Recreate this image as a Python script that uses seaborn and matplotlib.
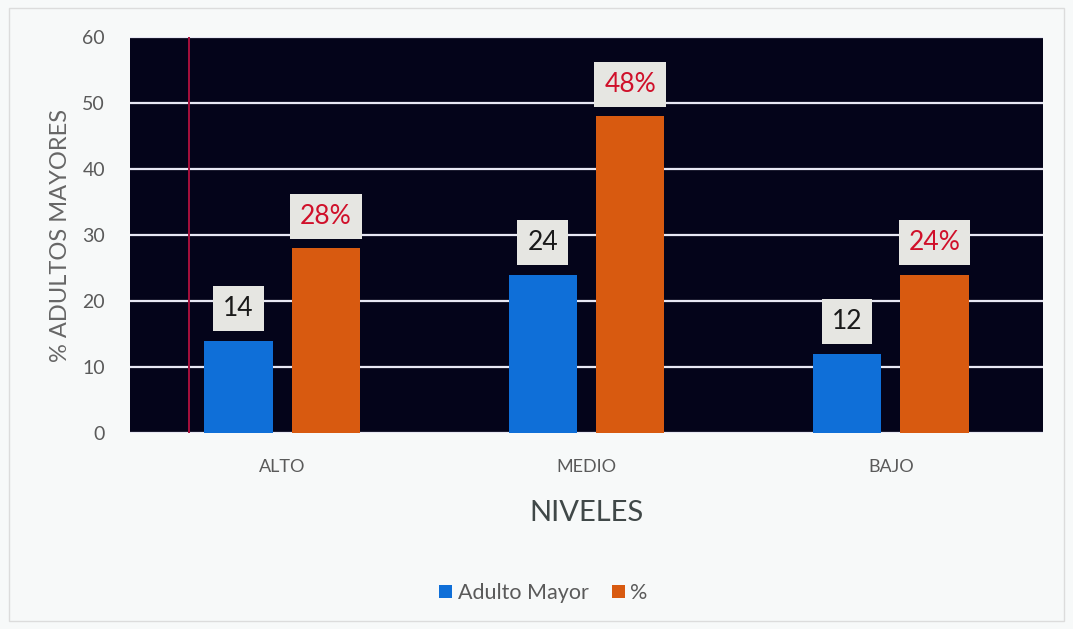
import matplotlib
matplotlib.use("Agg")
import matplotlib.pyplot as plt
import seaborn as sns
import pandas as pd
from matplotlib.patches import Rectangle

# Data
niveles = ["ALTO", "MEDIO", "BAJO"]
adulto_mayor = [14, 24, 12]
porcentaje = [28, 48, 24]
series = ["Adulto Mayor", "%"]
colores = ["#0f6fd8", "#d85a10"]

df = pd.DataFrame({
    "nivel": niveles * 2,
    "valor": adulto_mayor + porcentaje,
    "serie": [series[0]] * 3 + [series[1]] * 3,
})

sns.set_theme(style="white")
plt.rcParams["font.family"] = ["Lato", "DejaVu Sans"]

fig = plt.figure(figsize=(10.73, 6.29), dpi=100)
fig.patch.set_facecolor("#f7f9f9")
ax = fig.add_axes([0.1212, 0.3116, 0.8508, 0.6296])
ax.set_facecolor("#04041a")

sns.barplot(data=df, x="nivel", y="valor", hue="serie", palette=colores,
            width=0.574, gap=0.22, ax=ax, saturation=1, zorder=3,
            linewidth=0, edgecolor="none")

ax.set_ylim(0, 60)
ax.set_xlim(-0.5, 2.5)
ax.set_yticks(range(0, 61, 10))
ax.yaxis.grid(True, color="#e8e8f4", linewidth=1.6, zorder=1)
ax.xaxis.grid(False)
for s in ax.spines.values():
    s.set_visible(False)
ax.tick_params(axis="both", length=0, colors="#5a5a5a")
ax.tick_params(axis="y", labelsize=14, pad=18)
ax.tick_params(axis="x", labelsize=13, pad=19)

# thin red vertical rule in the plot area
ax.axvline(-0.306, color="#a8103c", linewidth=1.4, zorder=2)

ax.set_ylabel("% ADULTOS MAYORES", fontsize=17, color="#666666", labelpad=8)
ax.set_xlabel("NIVELES", fontsize=21, color="#404848", labelpad=18)

# value labels in light boxes above the bars
etiquetas = [[str(v) for v in adulto_mayor], [f"{v}%" for v in porcentaje]]
colores_texto = ["#1a1a1a", "#d0102a"]
for cont, labs, ct in zip(ax.containers, etiquetas, colores_texto):
    for bar, lab in zip(cont, labs):
        x = bar.get_x() + bar.get_width() / 2
        y = bar.get_height()
        ax.annotate(lab, (x, y), xytext=(0, 23), textcoords="offset points",
                    ha="center", va="center", fontsize=19, color=ct, zorder=5,
                    bbox=dict(boxstyle="square,pad=0.38", fc="#e6e6e2", ec="none"))

leg = ax.legend(loc="center", bbox_to_anchor=(0.453, -0.404), ncol=2,
                frameon=False, fontsize=15.5, handlelength=0.6, handleheight=0.6,
                handletextpad=0.25, columnspacing=1.1)
for t in leg.get_texts():
    t.set_color("#5a5a5a")

# outer chart border
fig.patches.append(Rectangle((0.008, 0.013), 0.984, 0.975, transform=fig.transFigure,
                             fill=False, edgecolor="#dcdcdc", linewidth=1.0))

fig.savefig("out.png", dpi=100, facecolor=fig.get_facecolor())
